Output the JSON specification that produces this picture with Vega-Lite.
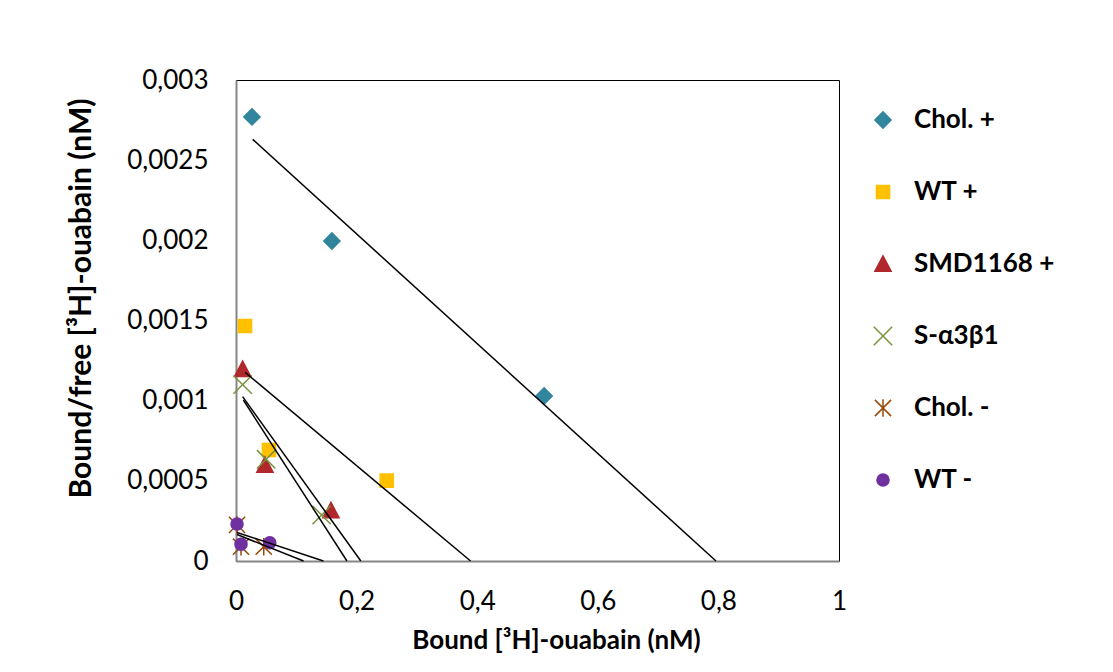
{
  "$schema": "https://vega.github.io/schema/vega-lite/v6.json",
  "width": 603,
  "height": 481,
  "autosize": {"type": "none"},
  "padding": {"left": 236, "top": 80, "right": 274, "bottom": 111},
  "background": "white",
  "datasets": {
    "points": [
      {"series": "Chol. +", "bound": 0.0265, "ratio": 0.00277},
      {"series": "Chol. +", "bound": 0.159, "ratio": 0.001996},
      {"series": "Chol. +", "bound": 0.511, "ratio": 0.001029},
      {"series": "WT +", "bound": 0.0149, "ratio": 0.001466},
      {"series": "WT +", "bound": 0.0547, "ratio": 0.000692},
      {"series": "WT +", "bound": 0.250, "ratio": 0.000501},
      {"series": "SMD1168 +", "bound": 0.011, "ratio": 0.001196},
      {"series": "SMD1168 +", "bound": 0.048, "ratio": 0.000599},
      {"series": "SMD1168 +", "bound": 0.1575, "ratio": 0.000315},
      {"series": "S-α3β1", "bound": 0.011, "ratio": 0.0011},
      {"series": "S-α3β1", "bound": 0.050, "ratio": 0.000634},
      {"series": "S-α3β1", "bound": 0.142, "ratio": 0.000287},
      {"series": "Chol.  -", "bound": 0.0017, "ratio": 0.000225},
      {"series": "Chol.  -", "bound": 0.0083, "ratio": 0.000089},
      {"series": "Chol.  -", "bound": 0.046, "ratio": 0.000089},
      {"series": "WT  -", "bound": 0.0017, "ratio": 0.000231},
      {"series": "WT  -", "bound": 0.0083, "ratio": 0.000104},
      {"series": "WT  -", "bound": 0.056, "ratio": 0.000114}
    ],
    "trend": [
      {"series": "Chol. +", "bound": 0.0277, "ratio": 0.00263},
      {"series": "Chol. +", "bound": 0.796, "ratio": 0},
      {"series": "WT +", "bound": 0.0149, "ratio": 0.001177},
      {"series": "WT +", "bound": 0.389, "ratio": 0},
      {"series": "SMD1168 +", "bound": 0.011, "ratio": 0.001025},
      {"series": "SMD1168 +", "bound": 0.207, "ratio": 0},
      {"series": "S-α3β1", "bound": 0.0122, "ratio": 0.001004},
      {"series": "S-α3β1", "bound": 0.184, "ratio": 0},
      {"series": "Chol.  -", "bound": 0.0017, "ratio": 0.000165},
      {"series": "Chol.  -", "bound": 0.112, "ratio": 0},
      {"series": "WT  -", "bound": 0.0017, "ratio": 0.000178},
      {"series": "WT  -", "bound": 0.145, "ratio": 0}
    ]
  },
  "layer": [
    {
      "data": {"name": "points"},
      "mark": {"type": "point", "filled": true, "size": 480, "strokeWidth": 1.5, "opacity": 1, "clip": false},
      "encoding": {
        "x": {"field": "bound", "type": "quantitative", "scale": {"domain": [0, 1], "nice": false, "zero": false, "padding": 0}},
        "y": {"field": "ratio", "type": "quantitative", "scale": {"domain": [0, 0.003], "nice": false, "zero": false, "padding": 0}},
        "color": {
          "field": "series", "type": "nominal", "title": null,
          "scale": {
            "domain": ["Chol. +", "WT +", "SMD1168 +", "S-α3β1", "Chol.  -", "WT  -"],
            "range": ["#31859C", "#FFC000", "#B0282C", "#77933C", "#984807", "#7030A0"]
          }
        },
        "stroke": {
          "field": "series", "type": "nominal", "title": null,
          "scale": {
            "domain": ["Chol. +", "WT +", "SMD1168 +", "S-α3β1", "Chol.  -", "WT  -"],
            "range": ["#31859C", "#FFC000", "#B0282C", "#77933C", "#984807", "#7030A0"]
          }
        },
        "shape": {
          "field": "series", "type": "nominal", "title": null,
          "scale": {
            "domain": ["Chol. +", "WT +", "SMD1168 +", "S-α3β1", "Chol.  -", "WT  -"],
            "range": [
              "M-0.74,0L0,-0.74L0.74,0L0,0.74Z",
              "M-0.6,-0.6L0.6,-0.6L0.6,0.6L-0.6,0.6Z",
              "M0,-0.74L0.74,0.66L-0.74,0.66Z",
              "M-0.84,-0.84L0.84,0.84M-0.84,0.84L0.84,-0.84",
              "M-0.74,-0.74L0.74,0.74M-0.74,0.74L0.74,-0.74M0,-0.8L0,0.8",
              "M0.55,0A0.55,0.55,0,1,1,-0.55,0A0.55,0.55,0,1,1,0.55,0Z"
            ]
          }
        }
      }
    },
    {
      "data": {"name": "trend"},
      "mark": {"type": "line", "color": "black", "strokeWidth": 1.5},
      "encoding": {
        "x": {
          "field": "bound", "type": "quantitative",
          "scale": {"domain": [0, 1], "nice": false, "zero": false, "padding": 0},
          "axis": {
            "title": "Bound [³H]-ouabain (nM)",
            "values": [0, 0.2, 0.4, 0.6, 0.8, 1],
            "format": "~f",
            "labelFlush": false,
            "labelPadding": 27,
            "titleX": 320,
            "titleY": 87,
            "titleFontSize": 26,
            "titleBaseline": "alphabetic"
          }
        },
        "y": {
          "field": "ratio", "type": "quantitative",
          "scale": {"domain": [0, 0.003], "nice": false, "zero": false, "padding": 0},
          "axis": {
            "title": "Bound/free [³H]-ouabain (nM)",
            "values": [0, 0.0005, 0.001, 0.0015, 0.002, 0.0025, 0.003],
            "format": "~f",
            "labelFlush": false,
            "labelPadding": 28,
            "titleX": -146,
            "titleY": 218,
            "titleFontSize": 30,
            "titleAngle": -90,
            "titleBaseline": "alphabetic",
            "titleAlign": "center"
          }
        },
        "detail": {"field": "series", "type": "nominal"}
      }
    }
  ],
  "config": {
    "locale": {"number": {"decimal": ",", "thousands": ".", "grouping": [3], "currency": ["", " €"]}},
    "font": "Lato",
    "view": {"stroke": "black", "strokeWidth": 1},
    "axis": {
      "grid": false,
      "ticks": false,
      "domainColor": "#868686",
      "domainWidth": 2,
      "labelFont": "Lato",
      "labelFontSize": 26,
      "labelColor": "black",
      "titleFont": "Lato",
      "titleFontSize": 27,
      "titleFontWeight": "bold",
      "titleColor": "black"
    },
    "legend": {
      "orient": "none",
      "legendX": 634,
      "legendY": 27,
      "padding": 0,
      "symbolSize": 480,
      "symbolStrokeWidth": 1.5,
      "symbolType": "circle",
      "labelFont": "Lato",
      "labelFontSize": 26,
      "labelFontWeight": "bold",
      "labelColor": "black",
      "labelOffset": 18,
      "rowPadding": 46,
      "labelLimit": 300
    }
  }
}
